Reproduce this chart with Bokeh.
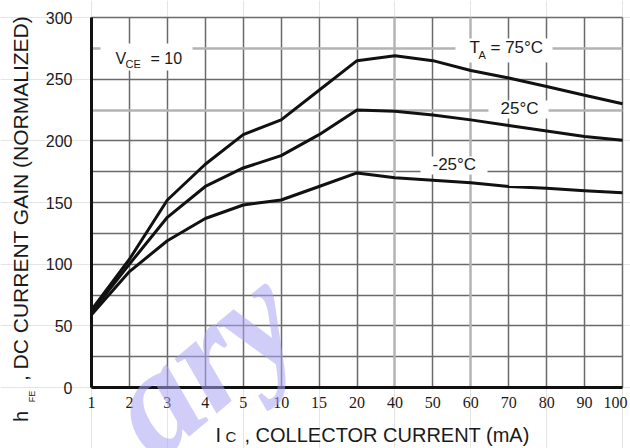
from bokeh.plotting import figure
from bokeh.models import (Range1d, FixedTicker, Grid, Label, LabelSet, ColumnDataSource,
                          BoxAnnotation, LinearAxis)
from bokeh.embed import file_html
from bokeh.resources import INLINE
import math

# Collector current positions (equally spaced on the chart) and their labels
ic_labels = ["1", "2", "3", "4", "5", "10", "15", "20", "40", "50", "60", "70", "80", "90", "100"]

# Normalized DC current gain at each collector current, per ambient temperature
hfe_75c = [63, 104, 152, 181, 205, 217, 241, 265, 269, 265, 257, 251, 244, 237, 230]
hfe_25c = [61, 100, 138, 163, 178, 188, 205, 225, 224, 221, 217, 212.5, 208, 203.5, 200.5]
hfe_m25c = [59, 94, 119, 137, 148, 152, 163, 174, 170, 168, 166, 163, 161.5, 159.5, 158]

y_ticks = [0, 50, 100, 150, 200, 250, 300]
y_grid = list(range(0, 301, 25))

FONT = "Liberation Sans"
INK = "#1a1a1a"
GRID_DARK = "#6a6a6a"
GRID_LIGHT = "#b4b4b4"

W, H = 630, 448
# plot area inside the page, in pixels
LEFT, RIGHT, TOP, BOTTOM = 91, 622, 17, 387

pos = list(range(len(ic_labels)))
x_max = pos[-1]
y_max = 300
sx = (RIGHT - LEFT) / x_max
sy = (BOTTOM - TOP) / y_max


def fx(px):
    return (px - LEFT) / sx


def fy(py):
    return (BOTTOM - py) / sy


p = figure(width=W, height=H,
           x_range=Range1d(fx(0), fx(W)), y_range=Range1d(fy(H), fy(0)),
           output_backend="svg", toolbar_location=None,
           x_axis_location=None, y_axis_location=None,
           min_border=0, min_border_left=0, min_border_right=0,
           min_border_top=0, min_border_bottom=0)
p.title.visible = False
p.background_fill_color = "white"
p.border_fill_color = "white"
p.outline_line_color = None

# Grid: dark lines, with a few lighter ones
light_x = [8, 10]
light_y = [225, 275]
p.add_layout(Grid(dimension=0, ticker=FixedTicker(ticks=[i for i in pos if i not in light_x]),
                  bounds=(0, x_max), cross_bounds=(0, y_max),
                  grid_line_color=GRID_DARK, grid_line_width=1.5))
p.add_layout(Grid(dimension=1, ticker=FixedTicker(ticks=[v for v in y_grid if v not in light_y]),
                  bounds=(0, y_max), cross_bounds=(0, x_max),
                  grid_line_color=GRID_DARK, grid_line_width=1.5))
p.add_layout(Grid(dimension=0, ticker=FixedTicker(ticks=light_x),
                  bounds=(0, x_max), cross_bounds=(0, y_max),
                  grid_line_color=GRID_LIGHT, grid_line_width=2.5))
p.add_layout(Grid(dimension=1, ticker=FixedTicker(ticks=light_y),
                  bounds=(0, y_max), cross_bounds=(0, x_max),
                  grid_line_color=GRID_LIGHT, grid_line_width=2.5))

# Axes drawn at the origin: thick black lines, no tick marks
yaxis = LinearAxis(fixed_location=0, bounds=(0, y_max), ticker=FixedTicker(ticks=y_ticks),
                   axis_line_width=3, axis_line_color="#111111",
                   major_tick_line_color=None, minor_tick_line_color=None,
                   major_label_standoff=13, major_label_text_font=FONT,
                   major_label_text_font_size="16px", major_label_text_color=INK)
xaxis = LinearAxis(fixed_location=0, bounds=(0, x_max), ticker=FixedTicker(ticks=[]),
                   axis_line_width=3, axis_line_color="#111111",
                   major_tick_line_color=None, minor_tick_line_color=None)
p.add_layout(yaxis, "left")
p.add_layout(xaxis, "below")

# White patches behind the in-plot annotations
for l, r, t, b in [(100, 192, 43, 70),
                   (455, 552, 38, 62),
                   (488, 548, 100, 118),
                   (420, 487, 156, 174)]:
    p.add_layout(BoxAnnotation(left=fx(l), right=fx(r), top=fy(t), bottom=fy(b),
                               fill_color="white", fill_alpha=1.0,
                               line_color=None, level="underlay"))

# Gain curves
for ys in (hfe_75c, hfe_25c, hfe_m25c):
    p.line(pos, ys, line_width=3, line_color="#111111", line_join="round")


def txt(px, py, s, size):
    # horizontal text is lifted a little so its baseline lands on py
    p.add_layout(Label(x=fx(px), y=fy(py - 0.45 * size), text=s, text_font=FONT,
                       text_font_size=f"{size}px", text_color=INK,
                       text_align="left", text_baseline="alphabetic"))


def vtxt(cx, cy, s, size):
    # vertical text, reading upwards, placed by its centre
    p.add_layout(Label(x=fx(cx), y=fy(cy), text=s, text_font=FONT,
                       text_font_size=f"{size}px", text_color=INK, angle=math.pi / 2,
                       text_align="center", text_baseline="middle"))


# In-plot annotations
txt(115, 65, "V", 16)
txt(125, 68, "CE", 11)
txt(150, 65, "= 10", 16)

txt(469, 55, "T", 17)
txt(478, 59, "A", 11)
txt(490, 55, "= 75°C", 17)

txt(500, 116, "25°C", 17)
txt(432, 172, "-25°C", 17)

# X tick labels under the grid lines
shift = [0] * len(ic_labels)
shift[-1] = -7
tick_src = ColumnDataSource(dict(x=pos, y=[fy(402)] * len(pos), text=ic_labels, dx=shift))
p.add_layout(LabelSet(x="x", y="y", text="text", source=tick_src, x_offset="dx",
                      text_align="center", text_baseline="middle",
                      text_font=FONT, text_font_size="16px", text_color=INK))

# Axis titles
txt(215, 443, "I", 20)
txt(225, 443, "C", 15)
txt(244, 443, ", COLLECTOR CURRENT (mA)", 20)

vtxt(20, 416, "h", 20)
vtxt(31, 396, "FE", 9)
vtxt(20, 198, ", DC CURRENT GAIN (NORMALIZED)", 21)

# Watermark
p.add_layout(Label(x=fx(200), y=fy(360), text="ary", angle=math.radians(40),
                   text_align="center", text_baseline="middle",
                   text_font="Liberation Serif", text_font_style="bold italic",
                   text_font_size="150px", text_color="#aaa4f4", text_alpha=0.55))

open("out.html", "w").write(file_html(p, INLINE))
